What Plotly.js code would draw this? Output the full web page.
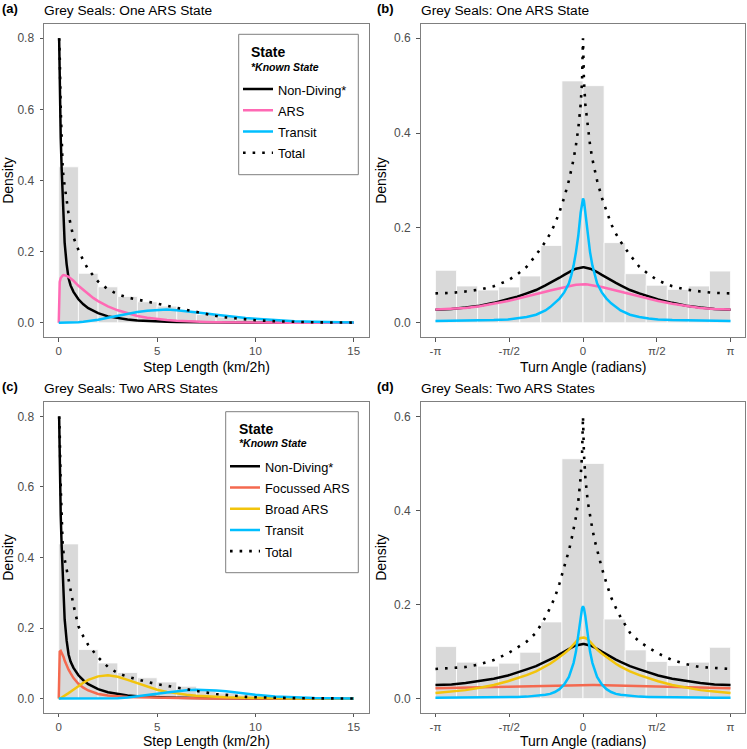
<!DOCTYPE html>
<html><head><meta charset="utf-8">
<script src="https://cdn.plot.ly/plotly-3.0.1.min.js"></script>
<style>html,body{margin:0;padding:0;background:#fff}</style>
</head><body><div id="chart" style="width:747px;height:749px"></div>
<script>
// ---------- Step length data (panels a, c) ----------
const stepX = [0, 0.02, 0.05, 0.1, 0.15, 0.2, 0.25, 0.3, 0.4, 0.5, 0.6, 0.75, 1, 1.25, 1.5, 1.75, 2, 2.5, 3, 3.5, 4, 4.5, 5, 5.5, 6, 6.5, 7, 7.5, 8, 8.5, 9, 9.5, 10, 11, 12, 13, 14, 15];
const stepBins = [0.5, 1.5, 2.5, 3.5, 4.5, 5.5, 6.5, 7.5, 8.5, 9.5, 10.5, 11.5, 12.5, 13.5, 14.5];
const stepHist = [0.4385, 0.139, 0.101, 0.074, 0.059, 0.047, 0.035, 0.023, 0.016, 0.011, 0.007, 0.004, 0.003, 0.002, 0.001];
const stepTickVals = [0, 5, 10, 15];

// One ARS state
const stepNonDiving1 = [null, 0.80, 0.66, 0.52, 0.43, 0.34, 0.28, 0.225, 0.165, 0.125, 0.105, 0.087, 0.066, 0.052, 0.041, 0.033, 0.027, 0.018, 0.0125, 0.009, 0.0067, 0.005, 0.0038, 0.0028, 0.0021, 0.0016, 0.0012, 0.0009, 0.0007, 0.0005, 0.0004, 0.0003, 0.0002, 0.0001, 0, 0, 0, 0];
const stepARS1 = [0, 0.09, 0.115, 0.126, 0.131, 0.133, 0.134, 0.134, 0.132, 0.129, 0.125, 0.118, 0.104, 0.092, 0.080, 0.070, 0.061, 0.046, 0.035, 0.026, 0.019, 0.014, 0.010, 0.0075, 0.0056, 0.004, 0.003, 0.0022, 0.0016, 0.0012, 0.0009, 0.0006, 0.0004, 0.0002, 0.0001, 0, 0, 0];
const stepTransit1 = [0, 0, 0, 0, 0, 0, 0, 0.0001, 0.0002, 0.0003, 0.0005, 0.0008, 0.0018, 0.003, 0.0045, 0.0065, 0.0087, 0.014, 0.020, 0.0255, 0.030, 0.034, 0.036, 0.037, 0.0355, 0.033, 0.0295, 0.026, 0.0225, 0.019, 0.016, 0.0132, 0.011, 0.0072, 0.0046, 0.0029, 0.0018, 0.0011];
const stepTotal1 = [null, 0.80, 0.75, 0.60, 0.47, 0.435, 0.405, 0.383, 0.345, 0.306, 0.277, 0.240, 0.205, 0.175, 0.150, 0.133, 0.116, 0.094, 0.080, 0.071, 0.065, 0.059, 0.054, 0.049, 0.043, 0.037, 0.029, 0.0235, 0.019, 0.015, 0.012, 0.0092, 0.0072, 0.0042, 0.002, 0.0012, 0.0008, 0.0005];

// Two ARS states
const stepNonDiving2 = [null, 0.80, 0.66, 0.52, 0.43, 0.34, 0.28, 0.225, 0.165, 0.125, 0.105, 0.087, 0.066, 0.052, 0.041, 0.033, 0.027, 0.018, 0.0125, 0.009, 0.0067, 0.005, 0.0038, 0.0028, 0.0021, 0.0016, 0.0012, 0.0009, 0.0007, 0.0005, 0.0004, 0.0003, 0.0002, 0.0001, 0, 0, 0, 0];
const stepFocussed2 = [0, 0.11, 0.133, 0.135, 0.13, 0.124, 0.117, 0.108, 0.094, 0.082, 0.072, 0.058, 0.042, 0.031, 0.023, 0.017, 0.013, 0.0085, 0.006, 0.0045, 0.0035, 0.0028, 0.0022, 0.0018, 0.0014, 0.001, 0.0008, 0.0006, 0.0004, 0.0003, 0.0002, 0.0001, 0.0001, 0, 0, 0, 0, 0];
const stepBroad2 = [0, 0, 0.0005, 0.0015, 0.003, 0.0045, 0.006, 0.0078, 0.0115, 0.0155, 0.0195, 0.026, 0.036, 0.045, 0.053, 0.059, 0.063, 0.066, 0.062, 0.053, 0.043, 0.033, 0.025, 0.019, 0.0145, 0.011, 0.0082, 0.0062, 0.0047, 0.0036, 0.0028, 0.0021, 0.0016, 0.0009, 0.0005, 0.0003, 0.0002, 0.0001];
const stepTransit2 = [0, 0, 0, 0, 0, 0, 0, 0, 0, 0, 0, 0, 0, 0, 0, 0, 0, 0.0004, 0.001, 0.003, 0.006, 0.0095, 0.0135, 0.0175, 0.021, 0.0235, 0.025, 0.0248, 0.023, 0.0205, 0.0172, 0.014, 0.011, 0.0062, 0.0033, 0.0017, 0.0009, 0.0005];
const stepTotal2 = [null, 0.80, 0.75, 0.60, 0.47, 0.435, 0.41, 0.395, 0.365, 0.338, 0.312, 0.265, 0.205, 0.176, 0.152, 0.134, 0.117, 0.090, 0.072, 0.062, 0.054, 0.047, 0.041, 0.036, 0.030, 0.026, 0.0216, 0.017, 0.013, 0.0097, 0.007, 0.005, 0.0037, 0.002, 0.0012, 0.0008, 0.0005, 0.0003];

// ---------- Turn angle data (panels b, d) ----------
const angleX = [-3.1416, -2.8, -2.5, -2.2, -1.9, -1.6, -1.4, -1.2, -1.0, -0.8, -0.7, -0.6, -0.5, -0.4, -0.3, -0.25, -0.2, -0.15, -0.1, -0.05, -0.02, 0, 0.02, 0.05, 0.1, 0.15, 0.2, 0.25, 0.3, 0.4, 0.5, 0.6, 0.7, 0.8, 1.0, 1.2, 1.4, 1.6, 1.9, 2.2, 2.5, 2.8, 3.1416];
const angleBins = [-2.9172, -2.4684, -2.0196, -1.5708, -1.1220, -0.6732, -0.2244, 0.2244, 0.6732, 1.1220, 1.5708, 2.0196, 2.4684, 2.9172];
const angleHist = [0.1106, 0.0775, 0.069, 0.0754, 0.0986, 0.163, 0.51, 0.50, 0.169, 0.1035, 0.079, 0.0704, 0.0775, 0.109];
const angleTickVals = [-3.1416, -1.5708, 0, 1.5708, 3.1416];
const angleTickText = ['-π', '-π/2', '0', 'π/2', 'π'];

// One ARS state
const angleNonDiving1 = [0.0275, 0.029, 0.032, 0.036, 0.042, 0.049, 0.055, 0.062, 0.069, 0.079, 0.084, 0.089, 0.095, 0.101, 0.107, 0.110, 0.112, 0.114, 0.1155, 0.1165, 0.117, 0.117, 0.117, 0.1165, 0.1155, 0.114, 0.112, 0.110, 0.107, 0.101, 0.095, 0.089, 0.084, 0.079, 0.069, 0.062, 0.055, 0.049, 0.042, 0.036, 0.032, 0.029, 0.0275];
const angleARS1 = [0.028, 0.029, 0.031, 0.035, 0.040, 0.046, 0.0505, 0.055, 0.060, 0.0655, 0.068, 0.0705, 0.073, 0.0755, 0.077, 0.078, 0.079, 0.080, 0.0805, 0.081, 0.081, 0.081, 0.081, 0.081, 0.0805, 0.080, 0.079, 0.078, 0.077, 0.0755, 0.073, 0.0705, 0.068, 0.0655, 0.060, 0.055, 0.0505, 0.046, 0.040, 0.035, 0.031, 0.029, 0.028];
const angleTransit1 = [0.004, 0.0042, 0.0045, 0.005, 0.0058, 0.007, 0.009, 0.012, 0.017, 0.026, 0.033, 0.041, 0.051, 0.064, 0.083, 0.100, 0.121, 0.149, 0.184, 0.232, 0.257, 0.262, 0.257, 0.232, 0.184, 0.149, 0.121, 0.100, 0.083, 0.064, 0.051, 0.041, 0.033, 0.026, 0.017, 0.012, 0.009, 0.007, 0.0058, 0.005, 0.0045, 0.0042, 0.004];
const angleTotal1 = [0.062, 0.063, 0.066, 0.070, 0.077, 0.089, 0.102, 0.118, 0.143, 0.171, 0.188, 0.208, 0.234, 0.264, 0.30, 0.322, 0.345, 0.375, 0.41, 0.46, 0.51, 0.60, 0.51, 0.46, 0.41, 0.375, 0.345, 0.322, 0.30, 0.264, 0.234, 0.208, 0.188, 0.171, 0.143, 0.118, 0.102, 0.089, 0.077, 0.070, 0.066, 0.063, 0.062];

// Two ARS states
const angleNonDiving2 = [0.029, 0.030, 0.033, 0.037, 0.042, 0.049, 0.055, 0.062, 0.069, 0.078, 0.083, 0.088, 0.094, 0.100, 0.106, 0.109, 0.111, 0.113, 0.1145, 0.1155, 0.116, 0.116, 0.116, 0.1155, 0.1145, 0.113, 0.111, 0.109, 0.106, 0.100, 0.094, 0.088, 0.083, 0.078, 0.069, 0.062, 0.055, 0.049, 0.042, 0.037, 0.033, 0.030, 0.029];
const angleFocussed2 = [0.0222, 0.0225, 0.023, 0.0236, 0.0244, 0.0252, 0.0258, 0.0264, 0.027, 0.0276, 0.0279, 0.0282, 0.0285, 0.0287, 0.0289, 0.029, 0.029, 0.029, 0.029, 0.029, 0.029, 0.029, 0.029, 0.029, 0.029, 0.029, 0.029, 0.029, 0.0289, 0.0287, 0.0285, 0.0282, 0.0279, 0.0276, 0.027, 0.0264, 0.0258, 0.0252, 0.0244, 0.0236, 0.023, 0.0225, 0.0222];
const angleBroad2 = [0.012, 0.015, 0.018, 0.023, 0.029, 0.037, 0.043, 0.050, 0.058, 0.068, 0.074, 0.081, 0.088, 0.096, 0.104, 0.110, 0.115, 0.121, 0.126, 0.129, 0.1298, 0.130, 0.1298, 0.129, 0.126, 0.121, 0.115, 0.110, 0.104, 0.096, 0.088, 0.081, 0.074, 0.068, 0.058, 0.050, 0.043, 0.037, 0.029, 0.023, 0.018, 0.015, 0.012];
const angleTransit2 = [0.002, 0.002, 0.0021, 0.0023, 0.0026, 0.003, 0.0035, 0.0042, 0.0055, 0.008, 0.010, 0.014, 0.020, 0.030, 0.046, 0.060, 0.076, 0.100, 0.135, 0.175, 0.192, 0.196, 0.192, 0.175, 0.135, 0.100, 0.076, 0.060, 0.046, 0.030, 0.020, 0.014, 0.010, 0.008, 0.0055, 0.0042, 0.0035, 0.003, 0.0026, 0.0023, 0.0021, 0.002, 0.002];
const angleTotal2 = [0.063, 0.065, 0.067, 0.073, 0.082, 0.096, 0.108, 0.121, 0.14, 0.173, 0.193, 0.215, 0.245, 0.278, 0.315, 0.336, 0.36, 0.386, 0.42, 0.47, 0.52, 0.60, 0.52, 0.47, 0.42, 0.386, 0.36, 0.336, 0.315, 0.278, 0.245, 0.215, 0.193, 0.173, 0.14, 0.121, 0.108, 0.096, 0.082, 0.073, 0.067, 0.065, 0.063];

// ---------- styling ----------
const FONT = 'Liberation Sans, Arial, Helvetica, sans-serif';
const C = {black: '#000000', pink: '#FF69B4', blue: '#00BFFF', orange: '#F4694F', yellow: '#F2C40C', bar: '#D9D9D9'};
const LW = 2.5;
const DOT = '2.6px,7px';

function bars(x, y, w, xa, ya) {
  return {type: 'bar', x: x, y: y, width: w, xaxis: xa, yaxis: ya, showlegend: false,
    marker: {color: C.bar, line: {color: '#ffffff', width: 0.8}}, hoverinfo: 'skip'};
}
function legName(n) { return '<span style="font-size:12.8px">' + n + '</span>'; }
function line(x, y, name, color, xa, ya, legend, show, dash) {
  return {type: 'scatter', mode: 'lines', x: x, y: y, name: legName(name), xaxis: xa, yaxis: ya,
    legend: legend, showlegend: show, line: {color: color, width: dash ? 2.6 : LW, dash: dash || 'solid'}, hoverinfo: 'skip'};
}

const data = [
  bars(stepBins, stepHist, 1, 'x', 'y'),
  line(stepX, stepNonDiving1, 'Non-Diving*', C.black, 'x', 'y', 'legend', true),
  line(stepX, stepARS1, 'ARS', C.pink, 'x', 'y', 'legend', true),
  line(stepX, stepTransit1, 'Transit', C.blue, 'x', 'y', 'legend', true),
  line(stepX, stepTotal1, 'Total', C.black, 'x', 'y', 'legend', true, DOT),

  bars(angleBins, angleHist, 0.4488, 'x2', 'y2'),
  line(angleX, angleNonDiving1, 'Non-Diving*', C.black, 'x2', 'y2', 'legend', false),
  line(angleX, angleARS1, 'ARS', C.pink, 'x2', 'y2', 'legend', false),
  line(angleX, angleTransit1, 'Transit', C.blue, 'x2', 'y2', 'legend', false),
  line(angleX, angleTotal1, 'Total', C.black, 'x2', 'y2', 'legend', false, DOT),

  bars(stepBins, stepHist, 1, 'x3', 'y3'),
  line(stepX, stepNonDiving2, 'Non-Diving*', C.black, 'x3', 'y3', 'legend2', true),
  line(stepX, stepFocussed2, 'Focussed ARS', C.orange, 'x3', 'y3', 'legend2', true),
  line(stepX, stepBroad2, 'Broad ARS', C.yellow, 'x3', 'y3', 'legend2', true),
  line(stepX, stepTransit2, 'Transit', C.blue, 'x3', 'y3', 'legend2', true),
  line(stepX, stepTotal2, 'Total', C.black, 'x3', 'y3', 'legend2', true, DOT),

  bars(angleBins, angleHist, 0.4488, 'x4', 'y4'),
  line(angleX, angleNonDiving2, 'Non-Diving*', C.black, 'x4', 'y4', 'legend2', false),
  line(angleX, angleFocussed2, 'Focussed ARS', C.orange, 'x4', 'y4', 'legend2', false),
  line(angleX, angleBroad2, 'Broad ARS', C.yellow, 'x4', 'y4', 'legend2', false),
  line(angleX, angleTransit2, 'Transit', C.blue, 'x4', 'y4', 'legend2', false),
  line(angleX, angleTotal2, 'Total', C.black, 'x4', 'y4', 'legend2', false, DOT)
];

const W = 747, H = 749;
function px(v) { return v / W; }
function py(v) { return 1 - v / H; }

const tickFont = {family: FONT, size: 12, color: '#4D4D4D'};
const xTickFont = {family: FONT, size: 11.5, color: '#4D4D4D'};
const titleFont = {family: FONT, size: 14, color: '#000'};
function xAxis(domain, range, anchor, extra) {
  return Object.assign({domain: domain, range: range, anchor: anchor, showgrid: false, zeroline: false,
    showline: true, mirror: true, linecolor: '#7F7F7F', linewidth: 1,
    ticks: 'outside', ticklen: 3.5, tickwidth: 1, tickcolor: '#555555',
    tickfont: xTickFont}, extra || {});
}
function yAxis(domain, range, anchor, dtick) {
  return {domain: domain, range: range, anchor: anchor, showgrid: false, zeroline: false,
    showline: true, mirror: true, linecolor: '#7F7F7F', linewidth: 1,
    ticks: 'outside', ticklen: 3.5, tickwidth: 1, tickcolor: '#555555', ticklabelstandoff: 3,
    dtick: dtick, tick0: 0, tickformat: '.1f', tickfont: tickFont,
    title: {text: 'Density', font: titleFont, standoff: 4}};
}

const dxA = [px(44), px(368.5)], dxB = [px(420.7), px(745.3)];
const dyTop = [py(337), py(24)], dyBot = [py(712.7), py(402.3)];
const stepRange = [-0.75, 15.75];
const angRange = [-3.4558, 3.4558];
const angExtra = {tickmode: 'array', tickvals: angleTickVals, ticktext: angleTickText};
const stepExtra = {tickmode: 'array', tickvals: stepTickVals};

function legendCfg(x, y) {
  return {x: x, y: y, xanchor: 'left', yanchor: 'top', bgcolor: 'rgba(0,0,0,0)', borderwidth: 0,
    font: {family: FONT, size: 14, color: '#000'}, itemwidth: 30, tracegroupgap: 0};
}
function legendBox(x0, y0, x1, y1) {
  return {type: 'rect', xref: 'paper', yref: 'paper', x0: px(x0), x1: px(x1), y0: py(y1), y1: py(y0),
    line: {color: '#7F7F7F', width: 1}, fillcolor: '#ffffff', layer: 'above'};
}

function ann(text, x, y, size, style, anchor) {
  let t = text;
  if (style === 'b') t = '<b>' + text + '</b>';
  if (style === 'bi') t = '<b><i>' + text + '</i></b>';
  return {text: t, x: px(x), y: py(y), xref: 'paper', yref: 'paper', borderpad: 0,
    xanchor: anchor || 'left', yanchor: 'middle', showarrow: false, font: {family: FONT, size: size, color: '#000'}};
}

const layout = {
  width: W, height: H, margin: {l: 0, r: 0, t: 0, b: 0},
  paper_bgcolor: '#ffffff', plot_bgcolor: '#ffffff', font: {family: FONT},
  xaxis: xAxis(dxA, stepRange, 'y', stepExtra),
  yaxis: yAxis(dyTop, [-0.04, 0.84], 'x', 0.2),
  xaxis2: xAxis(dxB, angRange, 'y2', angExtra),
  yaxis2: yAxis(dyTop, [-0.03, 0.63], 'x2', 0.2),
  xaxis3: xAxis(dxA, stepRange, 'y3', stepExtra),
  yaxis3: yAxis(dyBot, [-0.04, 0.84], 'x3', 0.2),
  xaxis4: xAxis(dxB, angRange, 'y4', angExtra),
  yaxis4: yAxis(dyBot, [-0.03, 0.63], 'x4', 0.2),
  barmode: 'overlay',
  legend: legendCfg(px(238), py(73.5)),
  legend2: legendCfg(px(225), py(450.7)),
  shapes: [legendBox(238.7, 34.3, 358.3, 174.7), legendBox(225.7, 411.7, 358.3, 572.7)],
  annotations: [
    ann('(a)', 1, 8, 13, 'b'), ann('Grey Seals: One ARS State', 43, 11, 13.7),
    ann('(b)', 376, 8, 13, 'b'), ann('Grey Seals: One ARS State', 419.5, 11, 13.7),
    ann('(c)', 1, 386, 13, 'b'), ann('Grey Seals: Two ARS States', 43, 388.5, 13.7),
    ann('(d)', 376, 386, 13, 'b'), ann('Grey Seals: Two ARS States', 419.5, 388.5, 13.7),
    ann('State', 249.5, 51.7, 14, 'b'), ann('*Known State', 249.5, 66.7, 10.5, 'bi'),
    ann('State', 237.8, 429, 14, 'b'), ann('*Known State', 237.8, 443.3, 10.5, 'bi'),
    // x-axis titles
    ann('Step Length (km/2h)', 206.2, 366.5, 14, null, 'center'),
    ann('Turn Angle (radians)', 583, 366.5, 14, null, 'center'),
    ann('Step Length (km/2h)', 206.2, 741, 14, null, 'center'),
    ann('Turn Angle (radians)', 583, 741, 14, null, 'center')
  ],
  hovermode: false
};

Plotly.newPlot('chart', data, layout, {staticPlot: true, displayModeBar: false});
</script></body></html>
